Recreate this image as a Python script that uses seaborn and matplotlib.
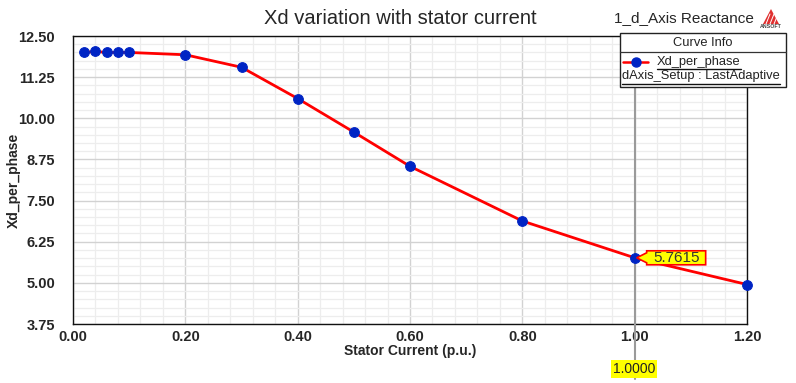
import matplotlib
matplotlib.use("Agg")
import matplotlib.pyplot as plt
from matplotlib.ticker import MultipleLocator, FormatStrFormatter
from matplotlib.patches import Rectangle, Polygon
from matplotlib.lines import Line2D
from matplotlib.transforms import IdentityTransform
import seaborn as sns
import pandas as pd

# Stator current sweep (p.u.) and resulting d-axis reactance per phase
stator_current = [0.02, 0.04, 0.06, 0.08, 0.10, 0.20, 0.30, 0.40, 0.50, 0.60, 0.80, 1.00, 1.20]
xd_per_phase = [12.00, 12.03, 12.00, 12.00, 12.00, 11.93, 11.55, 10.60, 9.58, 8.54, 6.88, 5.7615, 4.95]
marker_x = 1.0
marker_value = 5.7615

sns.set_style("white")
plt.rcParams["font.family"] = ["Liberation Sans", "DejaVu Sans"]

df = pd.DataFrame({"Stator Current (p.u.)": stator_current, "Xd_per_phase": xd_per_phase})

W, H = 796, 383
fig = plt.figure(figsize=(W / 100, H / 100), dpi=100)
L, R, T, B = 73, 747, 36, 324
ax = fig.add_axes([L / W, 1 - B / H, (R - L) / W, (B - T) / H])

def fx(px):
    return px / W

def fy(py):
    return 1 - py / H

sns.lineplot(data=df, x="Stator Current (p.u.)", y="Xd_per_phase", ax=ax,
             color="#ff0000", linewidth=2.0, marker="o", markersize=7,
             markerfacecolor="#0024c4", markeredgecolor="#0024c4", zorder=4, clip_on=False)

ax.set_xlim(0, 1.2)
ax.set_ylim(3.75, 12.5)
ax.xaxis.set_major_locator(MultipleLocator(0.2))
ax.xaxis.set_minor_locator(MultipleLocator(0.04))
ax.yaxis.set_major_locator(MultipleLocator(1.25))
ax.yaxis.set_minor_locator(MultipleLocator(0.25))
ax.xaxis.set_major_formatter(FormatStrFormatter("%.2f"))
ax.yaxis.set_major_formatter(FormatStrFormatter("%.2f"))

ax.grid(which="major", color="#d2d2d2", linewidth=1.0, zorder=0)
ax.grid(which="minor", color="#ededed", linewidth=0.9, zorder=0)
ax.set_axisbelow(True)

ax.tick_params(axis="y", which="major", direction="out", length=8, width=1, labelsize=10.5, pad=5)
ax.tick_params(axis="y", which="minor", direction="out", length=4, width=1)
ax.tick_params(axis="x", which="major", direction="inout", length=6, width=1, labelsize=10.5, pad=1)
ax.tick_params(axis="x", which="minor", direction="in", length=3, width=1)
for lab in ax.get_xticklabels() + ax.get_yticklabels():
    lab.set_fontweight("bold")

for s in ax.spines.values():
    s.set_color("#111111")
    s.set_linewidth(1.0)

ax.set_xlabel("Stator Current (p.u.)", fontsize=10, fontweight="bold", labelpad=0)
ax.set_ylabel("Xd_per_phase", fontsize=10, fontweight="bold")
ax.yaxis.set_label_coords(-(L - 21) / (R - L), 0.5)

# Data marker at the rated current
ax.axvline(marker_x, ymin=-0.19, ymax=1, color="#9a9a9a", linewidth=1.5, zorder=3, clip_on=False)
fig.text(fx(634), fy(369), f"{marker_x:.4f}", ha="center", va="center", fontsize=10, color="#222222",
         bbox=dict(boxstyle="square,pad=0.12", fc="#ffff00", ec="none"), zorder=6)

# Value flag pointing at the marked point (drawn in display pixels)
fig.canvas.draw()
px, py = ax.transData.transform((marker_x, marker_value))
flag = Polygon([[px + 2, py], [px + 12, py + 5], [px + 12, py + 7], [px + 71, py + 7],
                [px + 71, py - 7], [px + 12, py - 7], [px + 12, py - 5]], closed=True,
               transform=IdentityTransform(), fc="#ffff00", ec="#ff0000", lw=1.2, zorder=6)
fig.add_artist(flag)
fig.text(px + 42, py - 0.5, f"{marker_value:.4f}", transform=IdentityTransform(), ha="center", va="center",
         fontsize=11, color="#333333", zorder=7)

# Titles
fig.text(fx(400), fy(18), "Xd variation with stator current", ha="center", va="center", fontsize=14.5)
fig.text(fx(684), fy(18), "1_d_Axis Reactance", ha="center", va="center", fontsize=11)

# Small vendor logo
logo = Polygon([[fx(763), fy(24)], [fx(779), fy(24)], [fx(771), fy(9)]], closed=True,
               transform=fig.transFigure, fc="#e03030", ec="none")
fig.add_artist(logo)
for k in range(3):
    fig.add_artist(Line2D([fx(766 + 4 * k), fx(770 + 4 * k)], [fy(24), fy(14)], transform=fig.transFigure,
                          color="white", lw=0.7))
fig.text(fx(771), fy(27), "ANSOFT", ha="center", va="center", fontsize=3.8, color="#444444", fontweight="bold")

# Curve info box
bx0, bx1, by0, by1, bdiv = 620, 786, 33, 87, 52
fig.add_artist(Rectangle((fx(bx0), fy(by1)), fx(bx1) - fx(bx0), fy(by0) - fy(by1), transform=fig.transFigure,
                         fc="white", ec="#222222", lw=1.0, zorder=10))
fig.add_artist(Line2D([fx(bx0), fx(bx1)], [fy(bdiv), fy(bdiv)], transform=fig.transFigure,
                      color="#333333", lw=0.9, zorder=11))
fig.text(fx(703), fy(43), "Curve Info", ha="center", va="center", fontsize=9.3, color="#222222", zorder=12)
fig.add_artist(Line2D([fx(623), fx(648)], [fy(62), fy(62)], transform=fig.transFigure,
                      color="#ff0000", lw=1.8, zorder=12))
fig.add_artist(Line2D([fx(636)], [fy(62)], transform=fig.transFigure, marker="o", markersize=6.5,
                      color="#0024c4", zorder=13))
t1 = fig.text(fx(657), fy(61.5), "Xd_per_phase", ha="left", va="center", fontsize=9.3, color="#222222", zorder=12)
t2 = fig.text(fx(622), fy(76.5), "dAxis_Setup : LastAdaptive", ha="left", va="center", fontsize=9.3,
              color="#222222", zorder=12)

# Underline both legend entries
fig.canvas.draw()
for t, uy in ((t1, 68.5), (t2, 83.5)):
    bb = t.get_window_extent()
    fig.add_artist(Line2D([bb.x0 / W, bb.x1 / W], [fy(uy), fy(uy)], transform=fig.transFigure,
                          color="#111111", lw=1.0, zorder=14))

fig.savefig("out.png", dpi=100)
